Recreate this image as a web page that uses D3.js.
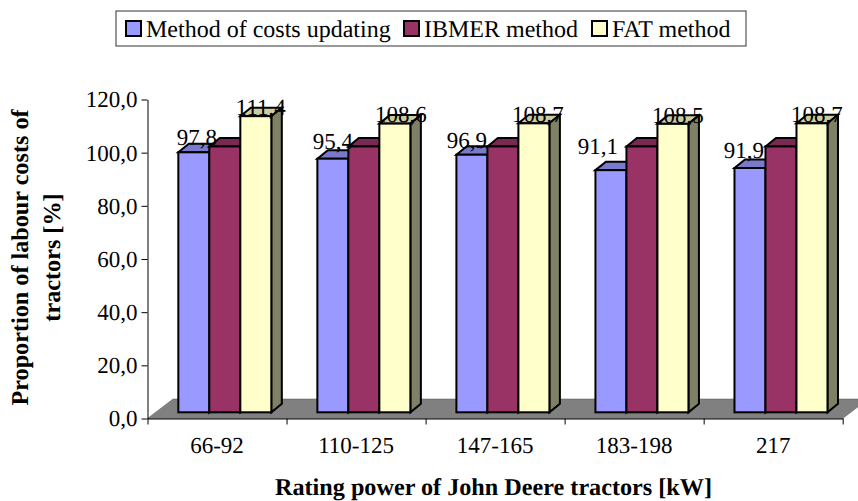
<!DOCTYPE html>
<html>
<head>
<meta charset="utf-8">
<style>
  html, body { margin: 0; background: #fff; }
  text { font-family: "Liberation Serif", "Times New Roman", serif; fill: #000; text-rendering: geometricPrecision; }
</style>
<script src="https://cdn.jsdelivr.net/npm/d3@7"></script>
</head>
<body>
<svg id="chart" width="858" height="501" style="display:block"></svg>
<script>
const categories = ['66-92', '110-125', '147-165', '183-198', '217']
const methods = ['Method of costs updating', 'IBMER method', 'FAT method']
const costsUpdating = [97.8, 95.4, 96.9, 91.1, 91.9]
const ibmer = [100, 100, 100, 100, 100]
const fat = [111.4, 108.6, 108.7, 108.5, 108.7]
const yTicks = [0, 20, 40, 60, 80, 100, 120]

// label placement was done by hand in the original, so keep the nudges apart
const costsNudge = [[3, -7], [0, -10], [-5, -6.5], [-13, -16], [-6, -10]]
const fatNudge = [[5, -1], [6, -1.5], [4, -1.5], [5, -1], [5, -1]]

const front = ['#9999ff', '#993366', '#ffffcc']
const top_ = ['#7a7acc', '#7a2952', '#cccca3']
const side = ['#6b6bb3', '#6b2447', '#808066']

const depth_x = 10.5, depth_y = 8.5
const lift_x = 7.8, lift_y = 6.2
const floor_x = 25.5, floor_y = 19.5

const svg = d3.select('#chart')
const comma = s => s.replace('.', ',')

const yScale = d3.scaleLinear().domain([0, 120]).range([418.5, 99.5])
const xScale = d3.scaleBand().domain(categories).range([147.5, 842.7])
const xEdges = d3.scaleLinear().domain([0, categories.length]).range(xScale.range())
const barScale = d3.scaleBand().domain(d3.range(methods.length)).range([0, 93])

// floor
const [x0, x1] = xScale.range()
const y0 = yScale(0)
svg.append('path')
    .attr('d', `M${x0},${y0}L${x0 + floor_x},${y0 - floor_y}L${x1 + floor_x},${y0 - floor_y}L${x1},${y0}Z`)
    .attr('fill', '#808080')
    .attr('stroke', '#555')
    .attr('stroke-width', 0.5)

// axes
const yAxis = svg.append('g')
    .attr('transform', `translate(${x0},0)`)
    .call(d3.axisLeft(yScale).tickValues(yTicks).tickSize(6).tickSizeOuter(0)
        .tickFormat(d => comma(d3.format('.1f')(d))))
const xAxis = svg.append('g')
    .attr('transform', `translate(0,${y0})`)
    .call(d3.axisBottom(xEdges).ticks(categories.length).tickSize(6).tickSizeOuter(0).tickFormat(''))
yAxis.selectAll('text').attr('x', -10).attr('dy', '0.32em')
    .style('font-family', '"Liberation Serif"').style('font-size', '23px')

svg.append('g').selectAll('text')
    .data(categories)
    .join('text')
    .attr('x', d => xScale(d) + xScale.bandwidth() / 2)
    .attr('y', 453)
    .attr('text-anchor', 'middle')
    .style('font-size', '23px')
    .text(d => d)

// bars
const series = [costsUpdating, ibmer, fat]
categories.forEach((cat, i) => {
    let g = svg.append('g')
    series.forEach((values, s) => {
        let left = xScale(cat) + lift_x + (xScale.bandwidth() - barScale.range()[1]) / 2 + barScale(s)
        let right = left + barScale.bandwidth()
        let top = yScale(values[i]) - lift_y
        let bottom = y0 - lift_y
        let shape = g.append('g')
            .attr('stroke', '#000')
            .attr('stroke-width', 2)
            .attr('stroke-linejoin', 'miter')
        shape.append('path')
            .attr('d', `M${left},${top}L${left + depth_x},${top - depth_y}L${right + depth_x},${top - depth_y}L${right},${top}Z`)
            .attr('fill', top_[s])
        shape.append('path')
            .attr('d', `M${right},${top}L${right + depth_x},${top - depth_y}L${right + depth_x},${bottom - depth_y}L${right},${bottom}Z`)
            .attr('fill', side[s])
        shape.append('rect')
            .attr('x', left)
            .attr('y', top)
            .attr('width', right - left)
            .attr('height', bottom - top)
            .attr('fill', front[s])
    })
})

// value labels go over all the bars
const labelled = [[0, costsUpdating, costsNudge], [2, fat, fatNudge]]
labelled.forEach(([s, values, nudge]) => {
    svg.append('g').selectAll('text')
        .data(values)
        .join('text')
        .attr('x', (d, i) => xScale(categories[i]) + lift_x + (xScale.bandwidth() - barScale.range()[1]) / 2 + barScale(s) + barScale.bandwidth() / 2 + nudge[i][0])
        .attr('y', (d, i) => yScale(d) - lift_y + nudge[i][1])
        .attr('text-anchor', 'middle')
        .style('font-size', '23px')
        .text(d => comma(d3.format('.1f')(d)))
})

// axis titles
svg.append('text')
    .attr('x', 493.5)
    .attr('y', 495)
    .attr('text-anchor', 'middle')
    .style('font-size', '24.2px')
    .style('font-weight', 'bold')
    .text('Rating power of John Deere tractors [kW]')
svg.append('text')
    .attr('transform', 'translate(28,257.5) rotate(-90)')
    .attr('text-anchor', 'middle')
    .style('font-size', '24.2px')
    .style('font-weight', 'bold')
    .text('Proportion of labour costs of')
svg.append('text')
    .attr('transform', 'translate(60,257.5) rotate(-90)')
    .attr('text-anchor', 'middle')
    .style('font-size', '24.2px')
    .style('font-weight', 'bold')
    .text('tractors [%]')

// legend
const legend = svg.append('g')
legend.append('rect')
    .attr('x', 116).attr('y', 11).attr('width', 630).attr('height', 35)
    .attr('fill', '#fff').attr('stroke', '#333').attr('stroke-width', 1)
const legendX = [126, 404, 592]
methods.forEach((m, s) => {
    legend.append('rect')
        .attr('x', legendX[s]).attr('y', 21).attr('width', 15).attr('height', 15)
        .attr('fill', front[s]).attr('stroke', '#000').attr('stroke-width', 2)
    legend.append('text')
        .attr('x', legendX[s] + 20).attr('y', 37)
        .style('font-size', '24px')
        .text(m)
})
</script>
</body>
</html>
